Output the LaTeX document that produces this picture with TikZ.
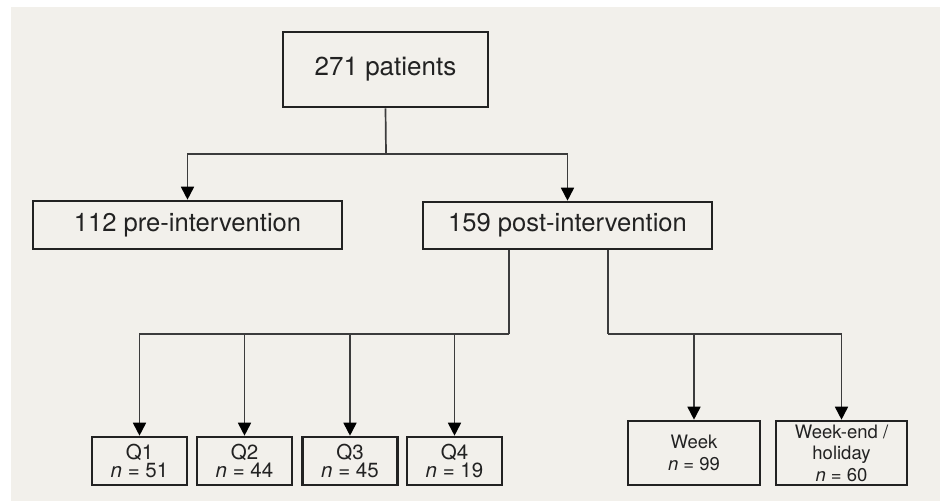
\documentclass[tikz,border=0pt]{standalone}
\usepackage{fontspec}
\setmainfont{TeX Gyre Heros}
\usetikzlibrary{arrows.meta,calc}
\definecolor{bg}{HTML}{F2F0EB}
\definecolor{ink}{HTML}{222222}
\definecolor{wire}{HTML}{3C3C3C}
\tikzset{
 box/.style={draw=ink, line width=2.6pt, fill=bg, text=ink, inner sep=0pt, align=center},
 bigtxt/.style={font=\fontsize{25.6}{30}\selectfont},
 qtxt/.style={font=\fontsize{20.5}{18.5}\selectfont},
 wtxt/.style={font=\fontsize{18.5}{21.5}\selectfont},
 wirel/.style={draw=wire, line width=1.7pt},
 arr/.style={wirel, -{Triangle[width=13pt,length=13pt,color=black]}},
}
\begin{document}
\begin{tikzpicture}[x=1pt,y=-1pt]
\fill[white] (0,0) rectangle (940,501);
\fill[bg] (11,7) rectangle (940,501);
\useasboundingbox (0,0) rectangle (940,501);

\node[box, font=\fontsize{26}{30}\selectfont, minimum width=205pt, minimum height=75pt] (top) at (385.5,69.5) {271 patients};
\node[box, bigtxt, minimum width=309pt, minimum height=48pt] (pre) at (187.5,225) {112 pre-intervention};
\node[box, bigtxt, minimum width=289pt, minimum height=47pt] (post) at (567.5,225.5) {159 post-intervention};

\node[box, qtxt, minimum width=95pt, minimum height=48pt] (q1) at (139.5,461) {Q1\\\textit{n} = 51};
\node[box, qtxt, minimum width=95pt, minimum height=48pt] (q2) at (244.5,461) {Q2\\\textit{n} = 44};
\node[box, qtxt, minimum width=95pt, minimum height=48pt] (q3) at (350,461) {Q3\\\textit{n} = 45};
\node[box, qtxt, minimum width=95pt, minimum height=48pt] (q4) at (454.5,461) {Q4\\\textit{n} = 19};

\node[box, wtxt, minimum width=132pt, minimum height=64pt] (week) at (694,453) {Week\\\textit{n} = 99};
\node[box, wtxt, minimum width=131pt, minimum height=64pt] (wend) at (841.5,453) {Week-end /\\holiday\\\textit{n} = 60};

\coordinate (j1) at (386,154);
\draw[wirel] (top.south) -- (j1);
\draw[arr] (j1) -| (pre.north);
\draw[arr] (j1) -| (post.north);

\coordinate (j2) at (509,334);
\draw[wirel] (post.south -| j2) -- (j2);
\draw[arr] (j2) -| (q1.north);
\draw[arr] (q2.north |- j2) -- (q2.north);
\draw[arr] (q3.north |- j2) -- (q3.north);
\draw[arr] (q4.north |- j2) -- (q4.north);

\coordinate (j3) at (608,334);
\draw[wirel] (post.south -| j3) -- (j3);
\draw[arr] (j3) -| (wend.north);
\draw[arr] (week.north |- j3) -- (week.north);
\end{tikzpicture}
\end{document}
